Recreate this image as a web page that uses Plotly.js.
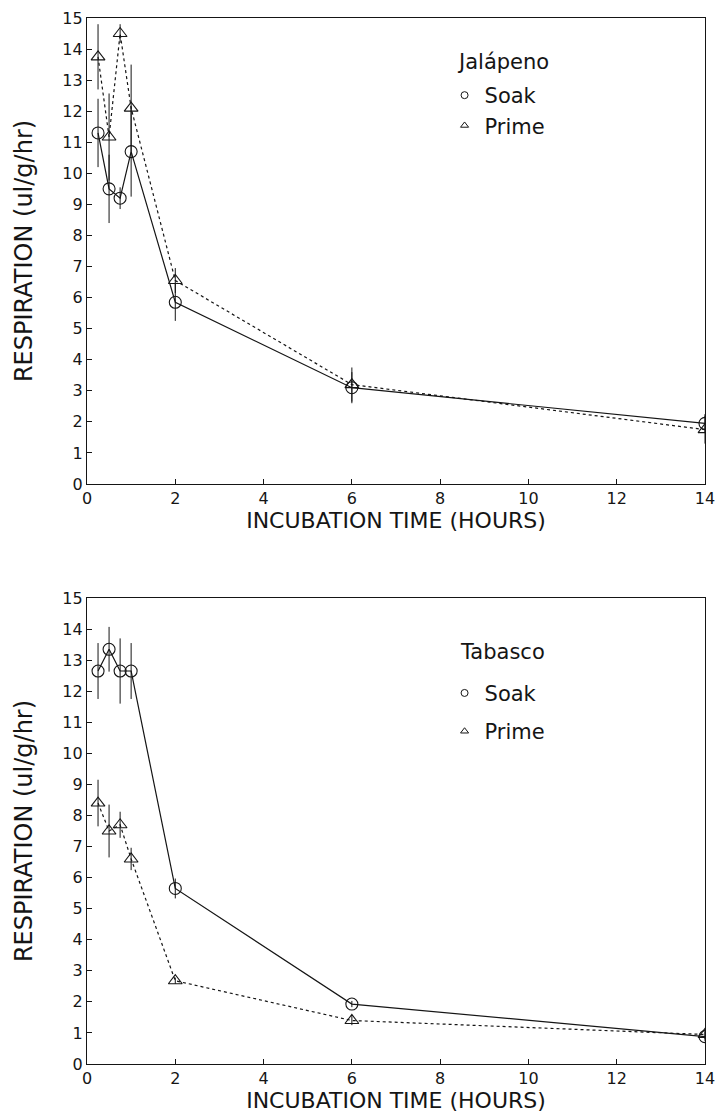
<!DOCTYPE html>
<html>
<head>
<meta charset="utf-8">
<script src="https://cdn.plot.ly/plotly-3.0.1.min.js"></script>
<style>html,body{margin:0;padding:0;background:#fff;}#chart{width:718px;height:1117px;}</style>
</head>
<body>
<div id="chart"></div>
<script>
// Incubation time (hours)
const hours = [0.25, 0.5, 0.75, 1, 2, 6, 14];

// Jalápeno
const jalSoak      = [11.3, 9.5, 9.2, 10.7, 5.85, 3.1, 1.95];
const jalSoakErr   = [1.1, 1.1, 0.35, 1.45, 0.6, 0.5, 0.3];
const jalPrime     = [13.75, 11.17, 14.5, 12.1, 6.55, 3.2, 1.75];
const jalPrimeErr  = [1.05, 1.4, 0.3, 1.4, 0.4, 0.55, 0.45];

// Tabasco
const tabSoak      = [12.65, 13.35, 12.65, 12.65, 5.65, 1.93, 0.88];
const tabSoakErr   = [0.9, 0.72, 1.05, 0.9, 0.32, 0.1, 0.15];
const tabPrime     = [8.4, 7.5, 7.7, 6.6, 2.68, 1.4, 0.95];
const tabPrimeErr  = [0.75, 0.85, 0.42, 0.36, 0.1, 0.15, 0.15];

const panelTitles = ['Jalápeno', 'Tabasco'];
const seriesNames = ['Soak', 'Prime'];
const xTicks = [0, 2, 4, 6, 8, 10, 12, 14];
const yTicks = [0,1,2,3,4,5,6,7,8,9,10,11,12,13,14,15];

const FONT = 'DejaVu Sans, sans-serif';
const INK = '#151515';

function series(y, err, name, sym, dash, xa, ya) {
  return {
    x: hours, y: y, name: name, xaxis: xa, yaxis: ya,
    type: 'scatter', mode: 'lines+markers', showlegend: false,
    line: {color: INK, width: 1.2, dash: dash},
    marker: {symbol: sym, size: 12, color: INK, line: {width: 1.1, color: INK}},
    error_y: {type: 'data', array: err, visible: true, thickness: 1, width: 0, color: INK}
  };
}
function legendEntry(name, sym, leg, grp) {
  return {
    x: [null], y: [null], name: name, type: 'scatter', mode: 'markers',
    legend: leg, legendgroup: grp, showlegend: true, xaxis: 'x', yaxis: 'y',
    marker: {symbol: sym, size: 7, color: INK, line: {width: 1, color: INK}}
  };
}

const data = [
  series(jalSoak, jalSoakErr, seriesNames[0], 'circle-open', 'solid', 'x', 'y'),
  series(jalPrime, jalPrimeErr, seriesNames[1], 'triangle-up-open', 'dot', 'x', 'y'),
  series(tabSoak, tabSoakErr, seriesNames[0], 'circle-open', 'solid', 'x2', 'y2'),
  series(tabPrime, tabPrimeErr, seriesNames[1], 'triangle-up-open', 'dot', 'x2', 'y2'),
  legendEntry(seriesNames[0], 'circle-open', 'legend', 'a1'),
  legendEntry(seriesNames[1], 'triangle-up-open', 'legend', 'a2'),
  legendEntry(seriesNames[0], 'circle-open', 'legend2', 'b1'),
  legendEntry(seriesNames[1], 'triangle-up-open', 'legend2', 'b2')
];

function xaxis(anchor) {
  return {
    anchor: anchor, domain: [0, 1], range: [0, 14], tickvals: xTicks, ticktext: xTicks.map(String),
    ticks: 'inside', ticklen: 5, tickcolor: INK, tickwidth: 1,
    showline: true, linecolor: INK, linewidth: 1.2, mirror: true,
    showgrid: false, zeroline: false,
    tickfont: {family: FONT, size: 16, color: INK},
    title: {text: 'INCUBATION TIME (HOURS)', font: {family: FONT, size: 22, color: INK}, standoff: 1}
  };
}
function yaxis(anchor, domain) {
  return {
    anchor: anchor, domain: domain, range: [0, 15], tickvals: yTicks, ticktext: yTicks.map(String),
    ticks: 'inside', ticklen: 5, tickcolor: INK, tickwidth: 1,
    showline: true, linecolor: INK, linewidth: 1.2, mirror: true,
    showgrid: false, zeroline: false,
    tickfont: {family: FONT, size: 16, color: INK},
    title: {text: 'RESPIRATION (ul/g/hr)', font: {family: FONT, size: 24, color: INK}, standoff: 22}
  };
}
function legend(y, gap) {
  return {
    font: {family: FONT, size: 21, color: INK},
    x: 0.5786, xanchor: 'left', y: y, yanchor: 'top',
    traceorder: 'grouped', tracegroupgap: gap,
    bgcolor: 'rgba(0,0,0,0)', borderwidth: 0, itemwidth: 30
  };
}
function panelTitle(text, x, y) {
  return {
    text: text, xref: 'paper', yref: 'paper', x: x, y: y,
    xanchor: 'left', yanchor: 'middle', showarrow: false,
    font: {family: FONT, size: 21, color: INK}
  };
}

const layout = {
  width: 718, height: 1117,
  margin: {l: 87, r: 13, t: 18, b: 53},
  paper_bgcolor: '#fff', plot_bgcolor: '#fff',
  font: {family: FONT, color: INK},
  xaxis: xaxis('y'),
  yaxis: yaxis('x', [0.5545, 1]),
  xaxis2: xaxis('y2'),
  yaxis2: yaxis('x2', [0, 0.4455]),
  legend: legend(0.9455, 0),
  legend2: legend(0.374, 8),
  annotations: [
    panelTitle(panelTitles[0], 0.5955, 0.958),
    panelTitle(panelTitles[1], 0.6000, 0.394)
  ]
};

Plotly.newPlot('chart', data, layout, {staticPlot: true, displayModeBar: false});
</script>
</body>
</html>
